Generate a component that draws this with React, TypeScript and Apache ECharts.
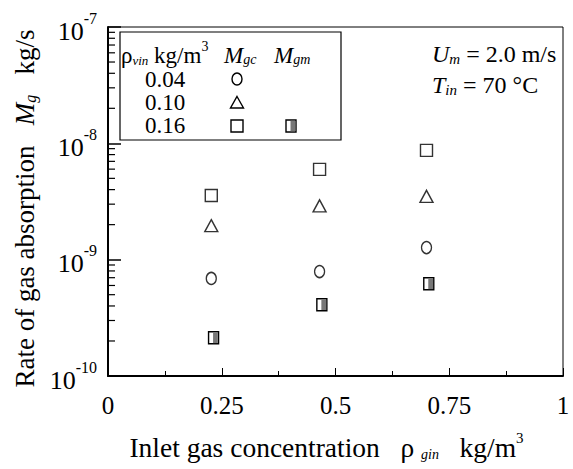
import React, { useEffect, useRef } from "react";
import * as echarts from "echarts";

// ---- data ----
const concMgc = [0.227, 0.465, 0.7];
const mgc004 = [6.9e-10, 7.9e-10, 1.27e-9];
const mgc010 = [1.96e-9, 2.9e-9, 3.5e-9];
const mgc016 = [3.56e-9, 5.97e-9, 8.7e-9];
const concMgm = [0.232, 0.47, 0.705];
const mgm016 = [2.13e-10, 4.1e-10, 6.2e-10];

const xTickLabels: Record<string, string> = { "0": "0", "0.25": "0.25", "0.5": "0.5", "0.75": "0.75", "1": "1" };
const yDecades = [-10, -9, -8, -7];
const minorMultipliers = [2, 3, 4, 5, 6, 7, 8, 9];
const legendRows = ["0.04", "0.10", "0.16"];

const SERIF = "Liberation Serif";

export default function App() {
  const ref = useRef<HTMLDivElement>(null);
  useEffect(() => {
    document.body.style.margin = "0";
    const chart = echarts.init(ref.current!, null, { renderer: "svg" });

    const minorTickVals: number[] = [];
    yDecades.slice(0, -1).forEach((e) => minorMultipliers.forEach((m) => minorTickVals.push(m * Math.pow(10, e))));

    const pairs = (xs: number[], ys: number[]) => xs.map((x, i) => [x, ys[i]]);
    const markerStyle = { color: "#fff", borderColor: "#000", borderWidth: 1.4 };

    const richSet = (size: number, subSize: number) => ({
      n: { fontFamily: SERIF, fontSize: size, color: "#000", fill: "#000", lineHeight: size + 4, verticalAlign: "bottom" },
      i: { fontFamily: SERIF, fontSize: size, fontStyle: "italic", color: "#000", fill: "#000", lineHeight: size + 4, verticalAlign: "bottom" },
      sub: { fontFamily: SERIF, fontSize: subSize, fontStyle: "italic", color: "#000", fill: "#000", lineHeight: subSize, verticalAlign: "bottom" },
      sup: { fontFamily: SERIF, fontSize: subSize + 1, color: "#000", fill: "#000", lineHeight: subSize + 1, verticalAlign: "top" },
    });

    const option: any = {
      animation: false,
      backgroundColor: "#fff",
      textStyle: { fontFamily: SERIF, color: "#000" },
      grid: { left: 108, top: 27, right: 10, bottom: 93, show: true, borderColor: "#000", borderWidth: 1, backgroundColor: "transparent" },
      xAxis: {
        type: "value",
        min: 0,
        max: 1,
        interval: 0.25,
        axisLine: { lineStyle: { color: "#000", width: 2 } },
        axisTick: { inside: true, length: 8, lineStyle: { color: "#000", width: 1 } },
        minorTick: { show: true, splitNumber: 2, length: 5, lineStyle: { color: "#000", width: 1 } },
        splitLine: { show: false },
        axisLabel: {
          fontFamily: SERIF,
          fontSize: 25,
          color: "#000",
          margin: 17,
          formatter: (v: number) => xTickLabels[String(v)] ?? String(v),
        },
        name: "{n|Inlet gas concentration   ρ }{sub|gin}{n|   kg/m}{sup|3}",
        nameLocation: "middle",
        nameGap: 54,
        nameTextStyle: { fontFamily: SERIF, padding: [0, 18, 0, 0], rich: richSet(27.5, 14) },
      },
      yAxis: {
        type: "log",
        logBase: 10,
        min: 1e-10,
        max: 1e-7,
        splitNumber: 3,
        axisLine: { lineStyle: { color: "#000", width: 2 } },
        axisTick: { inside: true, length: 13, lineStyle: { color: "#000", width: 1.5 } },
        splitLine: { show: false },
        axisLabel: {
          margin: 11,
          fontFamily: SERIF,
          formatter: (v: number) => `{b|10}{s|${Math.round(Math.log10(v))}}`,
          rich: {
            b: { fontFamily: SERIF, fontSize: 26, color: "#000", lineHeight: 34, verticalAlign: "bottom" },
            s: { fontFamily: SERIF, fontSize: 16, color: "#000", lineHeight: 16, verticalAlign: "top" },
          },
        },
        name: "{n|Rate of gas absorption   }{i|M}{sub|g}{n|   kg/s}",
        nameLocation: "middle",
        nameRotate: 90,
        nameGap: 60,
        nameTextStyle: { fontFamily: SERIF, padding: [0, 14, 0, 0], rich: richSet(27, 16) },
      },
      series: [
        {
          type: "custom",
          name: "minorTicks",
          silent: true,
          clip: false,
          data: minorTickVals.map((v) => [0, v]),
          renderItem: (params: any, api: any) => {
            const p = api.coord([api.value(0), api.value(1)]);
            return {
              type: "line",
              shape: { x1: p[0], y1: p[1], x2: p[0] + 7, y2: p[1] },
              style: { stroke: "#000", lineWidth: 1.2 },
            };
          },
          z: 3,
        },
        { type: "scatter", name: "0.04", symbol: "circle", symbolSize: [10, 12], itemStyle: markerStyle, data: pairs(concMgc, mgc004) },
        { type: "scatter", name: "0.10", symbol: "triangle", symbolSize: [13, 12], itemStyle: markerStyle, data: pairs(concMgc, mgc010) },
        { type: "scatter", name: "0.16", symbol: "rect", symbolSize: 12, itemStyle: markerStyle, data: pairs(concMgc, mgc016) },
        {
          type: "custom",
          name: "Mgm 0.16",
          data: pairs(concMgm, mgm016),
          renderItem: (params: any, api: any) => {
            const p = api.coord([api.value(0), api.value(1)]);
            return {
              type: "group",
              children: [
                { type: "rect", shape: { x: p[0] - 5, y: p[1] - 6, width: 10, height: 12 }, style: { fill: "#fff", stroke: "#000", lineWidth: 1.4 } },
                { type: "rect", shape: { x: p[0] - 0.5, y: p[1] - 5.3, width: 4.8, height: 10.6 }, style: { fill: "#777" } },
              ],
            };
          },
        },
      ],
      graphic: [
        {
          type: "rect",
          shape: { x: 120, y: 32, width: 221, height: 108 },
          style: { fill: "#fff", stroke: "#000", lineWidth: 1.2 },
          z: 10,
        },
        {
          type: "text",
          x: 121,
          y: 53,
          z: 11,
          style: { text: "{n|ρ}{sub|vin}{n| kg/m}{sup|3}", verticalAlign: "middle", rich: richSet(23, 13) },
        },
        {
          type: "text",
          x: 224,
          y: 53,
          z: 11,
          style: { text: "{i|M}{sub|gc}", verticalAlign: "middle", rich: richSet(23, 14) },
        },
        {
          type: "text",
          x: 274,
          y: 53,
          z: 11,
          style: { text: "{i|M}{sub|gm}", verticalAlign: "middle", rich: richSet(23, 14) },
        },
        ...legendRows.map((t, i) => ({
          type: "text",
          x: 145,
          y: 79 + i * 23,
          z: 11,
          style: { text: t, fontFamily: SERIF, fontSize: 23, fill: "#000", verticalAlign: "middle" },
        })),
        { type: "ellipse", shape: { cx: 237, cy: 79, rx: 5, ry: 6 }, style: { fill: "#fff", stroke: "#000", lineWidth: 1.4 }, z: 11 },
        { type: "polygon", shape: { points: [[237, 96.5], [243.5, 108], [230.5, 108]] }, style: { fill: "#fff", stroke: "#000", lineWidth: 1.4 }, z: 11 },
        { type: "rect", shape: { x: 231, y: 120, width: 12, height: 12 }, style: { fill: "#fff", stroke: "#000", lineWidth: 1.4 }, z: 11 },
        { type: "rect", shape: { x: 286, y: 120, width: 10, height: 12 }, style: { fill: "#fff", stroke: "#000", lineWidth: 1.4 }, z: 11 },
        { type: "rect", shape: { x: 290.5, y: 120.7, width: 4.8, height: 10.6 }, style: { fill: "#777" }, z: 12 },
        {
          type: "text",
          x: 432,
          y: 52,
          z: 11,
          style: { text: "{i|U}{sub|m}{n| = 2.0 m/s}", verticalAlign: "middle", rich: richSet(24, 15) },
        },
        {
          type: "text",
          x: 432,
          y: 83,
          z: 11,
          style: { text: "{i|T}{sub|in}{n| = 70 °C}", verticalAlign: "middle", rich: richSet(24, 15) },
        },
      ],
    };

    chart.setOption(option);
    return () => chart.dispose();
  }, []);

  return <div ref={ref} style={{ width: 573, height: 469 }} />;
}
